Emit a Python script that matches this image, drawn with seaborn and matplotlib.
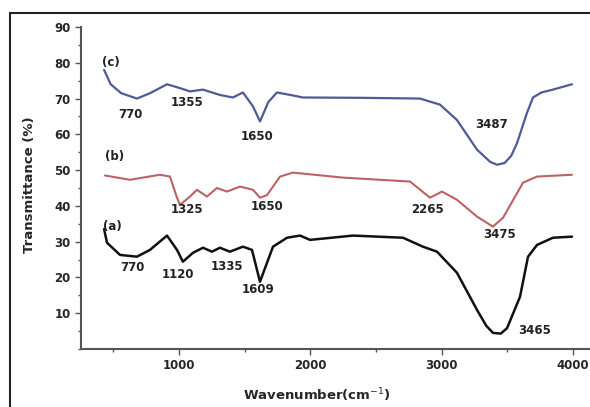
import pandas as pd
import matplotlib.pyplot as plt
import seaborn as sns
from matplotlib.lines import Line2D
from matplotlib.ticker import MultipleLocator

# Số liệu (số sóng, độ truyền qua %)
wn_c = [430, 480, 560, 680, 780, 909, 1000, 1084, 1183, 1312, 1411, 1487, 1564, 1617, 1680,
        1746, 1850, 1944, 2400, 2835, 2988, 3117, 3270, 3370, 3422, 3480, 3530, 3574, 3650,
        3696, 3760, 3848, 3993]
t_c = [78, 74, 71.5, 70, 71.5, 74, 73, 72, 72.5, 71, 70.3, 71.7, 67.8, 63.6, 69,
       71.7, 71, 70.3, 70.2, 70, 68.3, 64, 55.7, 52.3, 51.5, 52.0, 54.0, 57.5, 66,
       70.3, 71.7, 72.5, 74]

wn_b = [436, 627, 855, 931, 985, 1008, 1084, 1137, 1213, 1289, 1366, 1465, 1564, 1617, 1670,
        1770, 1868, 2250, 2760, 2911, 3003, 3117, 3270, 3391, 3468, 3620, 3727, 3993]
t_b = [48.5, 47.3, 48.7, 48.2, 42.3, 40.3, 42.6, 44.5, 42.6, 45, 44, 45.4, 44.5, 42.3, 43,
       48.2, 49.3, 47.9, 46.8, 42.3, 44, 41.7, 37, 34.2, 36.7, 46.5, 48.2, 48.7]

wn_a = [430, 452, 551, 680, 779, 909, 985, 1030, 1107, 1183, 1251, 1312, 1388, 1487, 1556,
        1617, 1716, 1823, 1922, 1998, 2325, 2706, 2858, 2965, 3117, 3270, 3340, 3391, 3450,
        3498, 3597, 3658, 3727, 3848, 3993]
t_a = [33.5, 29.7, 26.3, 25.8, 27.7, 31.7, 27.7, 24.4, 26.9, 28.3, 27.2, 28.3, 27.2, 28.6, 27.7,
       18.8, 28.6, 31.1, 31.7, 30.5, 31.7, 31.1, 28.6, 27.2, 21.3, 10.9, 6.5, 4.5, 4.3,
       5.8, 14.6, 25.8, 29.1, 31.1, 31.4]

# Nhãn đỉnh: (text, x, y)
peak_labels = [
    ('(c)', 480, 80), ('770', 630, 65.5), ('1355', 1060, 68.9), ('1650', 1594, 59.4),
    ('3487', 3384, 62.7),
    ('(b)', 510, 53.8), ('1325', 1060, 38.9), ('1650', 1670, 39.8), ('2265', 2889, 38.9),
    ('3475', 3445, 31.9),
    ('(a)', 495, 34.2), ('770', 642, 22.7), ('1120', 992, 20.7), ('1335', 1366, 23),
    ('1609', 1602, 16.5), ('3465', 3710, 5.3),
]

sns.set_style('ticks')
plt.rcParams['font.family'] = ['DejaVu Sans']

fig = plt.figure(figsize=(5.9, 4.07), dpi=100)
ax = fig.add_axes([81 / 590, 1 - 349 / 407, 1 - 81 / 590, (349 - 27) / 407])

df_c = pd.DataFrame({'wn': wn_c, 't': t_c})
df_b = pd.DataFrame({'wn': wn_b, 't': t_b})
df_a = pd.DataFrame({'wn': wn_a, 't': t_a})
sns.lineplot(data=df_c, x='wn', y='t', color='#4f5a96', linewidth=1.6, sort=False, ax=ax)
sns.lineplot(data=df_b, x='wn', y='t', color='#bd6262', linewidth=1.5, sort=False, ax=ax)
sns.lineplot(data=df_a, x='wn', y='t', color='#111111', linewidth=1.8, sort=False, ax=ax)

for txt, x, y in peak_labels:
    ax.text(x, y, txt, fontsize=8.5, fontweight='bold', color='#222222', ha='center', va='center')

ax.set_xlim(254, 4130)
ax.set_ylim(0, 90)
ax.set_xticks([1000, 2000, 3000, 4000])
ax.xaxis.set_minor_locator(MultipleLocator(500))
ax.set_yticks([10, 20, 30, 40, 50, 60, 70, 80, 90])
ax.yaxis.set_minor_locator(MultipleLocator(5))
ax.tick_params(axis='both', which='major', labelsize=8.5, length=4, width=1, color='#555555')
ax.tick_params(axis='both', which='minor', length=2, width=1, color='#555555')
for lab in ax.get_xticklabels() + ax.get_yticklabels():
    lab.set_fontweight('bold')
ax.spines['top'].set_visible(False)
ax.spines['right'].set_visible(False)
ax.spines['left'].set_color('#555555')
ax.spines['bottom'].set_color('#555555')
ax.spines['left'].set_linewidth(1.5)
ax.spines['bottom'].set_linewidth(1.5)
ax.set_xlabel('')
ax.set_ylabel('')

fig.text(317 / 590, 1 - 395 / 407, 'Wavenumber(cm$^{-1}$)', fontsize=9.5, fontweight='bold',
         ha='center', va='center')
fig.text(30 / 590, 1 - 185 / 407, 'Transmittance (%)', fontsize=9.5, fontweight='bold',
         ha='center', va='center', rotation=90)

# khung ảnh
fig.add_artist(Line2D([10 / 590, 10 / 590], [0, 1 - 13 / 407], color='#222222', linewidth=1.5))
fig.add_artist(Line2D([10 / 590, 1], [1 - 13 / 407, 1 - 13 / 407], color='#222222', linewidth=1.5))

fig.savefig('out.png', dpi=100)
